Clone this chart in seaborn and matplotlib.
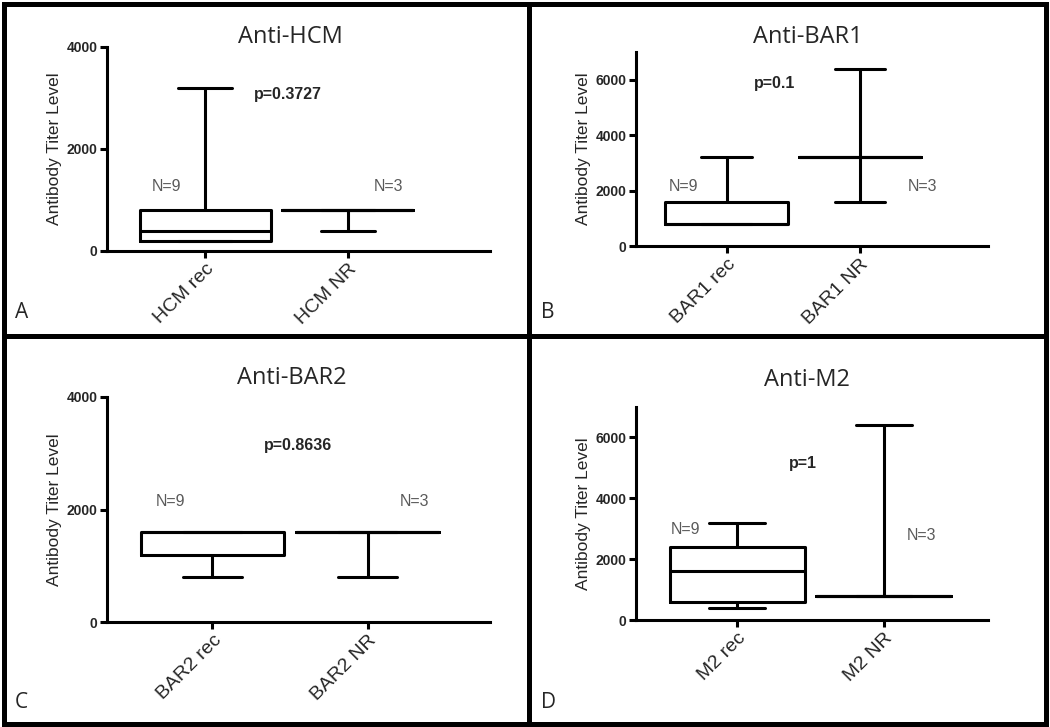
import matplotlib
matplotlib.use("Agg")
import matplotlib.pyplot as plt
from matplotlib.lines import Line2D
import seaborn as sns

# summary stats (min / q1 / median / q3 / max)
titles = ["Anti-HCM", "Anti-BAR1", "Anti-BAR2", "Anti-M2"]
letters = ["A", "B", "C", "D"]
p_labels = ["p=0.3727", "p=0.1", "p=0.8636", "p=1"]
groups = [["HCM rec", "HCM NR"], ["BAR1 rec", "BAR1 NR"],
          ["BAR2 rec", "BAR2 NR"], ["M2 rec", "M2 NR"]]
n_labels = ["N=9", "N=3"]
mins = [[200, 400], [800, 1600], [800, 800], [400, 800]]
q1s = [[200, 800], [800, 3200], [1200, 1600], [600, 800]]
medians = [[400, 800], [800, 3200], [1600, 1600], [1600, 800]]
q3s = [[800, 800], [1600, 3200], [1600, 1600], [2400, 800]]
maxs = [[3200, 800], [3200, 6400], [1600, 1600], [3200, 6400]]
y_tops = [4000, 7000, 4000, 7000]
y_ticks = [[0, 2000, 4000], [0, 2000, 4000, 6000],
           [0, 2000, 4000], [0, 2000, 4000, 6000]]

sns.set_theme(style="ticks")
plt.rcParams["font.family"] = ["Liberation Sans", "DejaVu Sans"]

W, H = 1050, 727
fig = plt.figure(figsize=(W / 100, H / 100), dpi=100)

# layout in pixels: left, right, top, bottom of each axes
axes_px = [(107, 490, 47, 251), (636, 988, 52, 246),
           (107, 490, 397, 622), (636, 988, 407, 620)]
xlims = [(-0.69, 2.0), (-0.68, 1.96), (-0.68, 1.79), (-0.69, 1.71)]
title_px = [(290, 37), (808, 37), (292, 378), (807, 380)]
letter_px = [(15, 313), (541, 313), (15, 702), (541, 702)]
p_pos = [(0.58, 3060), (0.36, 5870), (0.55, 3130), (0.45, 5140)]
n_pos = [[(-0.27, 1255), (1.29, 1255)], [(-0.32, 2160), (1.47, 2160)],
         [(-0.27, 2140), (1.30, 2140)], [(-0.35, 2980), (1.26, 2780)]]

lw = 2.2
for i in range(4):
    l, r, t, b = axes_px[i]
    ax = fig.add_axes([l / W, 1 - b / H, (r - l) / W, (b - t) / H])
    stats = []
    for j in range(2):
        stats.append({"whislo": mins[i][j], "q1": q1s[i][j], "med": medians[i][j],
                      "q3": q3s[i][j], "whishi": maxs[i][j], "fliers": []})
    ax.bxp(stats, positions=[0, 1], widths=0.92, capwidths=0.38,
           showfliers=False, patch_artist=False,
           boxprops=dict(color="black", linewidth=lw),
           medianprops=dict(color="black", linewidth=lw),
           whiskerprops=dict(color="black", linewidth=lw),
           capprops=dict(color="black", linewidth=lw))
    ax.set_xlim(*xlims[i])
    ax.set_ylim(0, y_tops[i])
    ax.set_yticks(y_ticks[i])
    ax.set_yticklabels([str(v) for v in y_ticks[i]], fontsize=10, fontweight="bold")
    ax.set_xticks([0, 1])
    ax.set_xticklabels(groups[i], rotation=45, ha="right", rotation_mode="anchor",
                       fontsize=14)
    ax.set_ylabel("Antibody Titer Level", fontsize=12.5, labelpad=3)
    ax.tick_params(axis="both", width=lw, length=5, color="black", pad=2)
    sns.despine(ax=ax)
    for s in ["left", "bottom"]:
        ax.spines[s].set_linewidth(lw)
        ax.spines[s].set_color("black")
    ax.set_facecolor("white")

    ax.text(*p_pos[i], p_labels[i], ha="center", va="center",
            fontsize=11.5, fontweight="bold")
    for j in range(2):
        ax.text(*n_pos[i][j], n_labels[j], ha="center", va="center",
                fontsize=11.5, color="#5a5a5a")

    fig.text(title_px[i][0] / W, 1 - title_px[i][1] / H, titles[i],
             ha="center", va="center", fontsize=17, family="Open Sans")
    fig.text(letter_px[i][0] / W, 1 - letter_px[i][1] / H, letters[i],
             ha="left", va="center", fontsize=15, family="Open Sans")

# panel borders
bw = 3.6
for xs, ys in [((3.5, 1046), (4, 4)), ((3.5, 1046), (724, 724)),
               ((3.5, 3.5), (4, 724)), ((1046, 1046), (4, 724)),
               ((529, 529), (4, 724)), ((3.5, 1046), (336, 336))]:
    fig.add_artist(Line2D([x / W for x in xs], [1 - y / H for y in ys],
                          color="black", linewidth=bw, solid_capstyle="projecting"))

fig.savefig("out.png", dpi=100, facecolor="white")
